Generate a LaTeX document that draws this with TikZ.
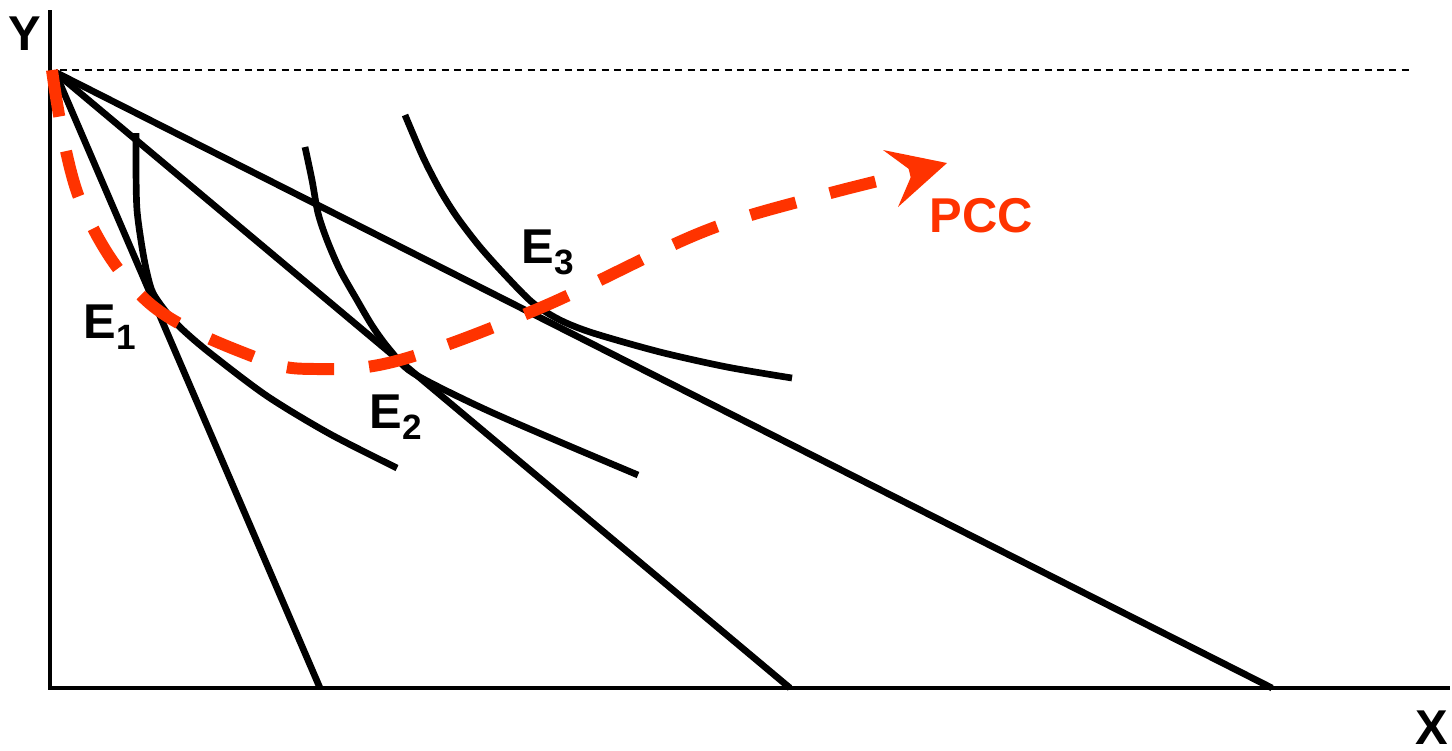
\documentclass[tikz,border=0pt]{standalone}
\usepackage{fontspec}
\setmainfont{Liberation Sans}
\definecolor{pccred}{RGB}{255,51,0}
\newcommand\subidx[1]{\raisebox{-3.4pt}{\bfseries\fontsize{10}{12}\selectfont #1}}
\begin{document}
\begin{tikzpicture}[x=0.01cm,y=-0.01cm,
  axisline/.style={line width=1.15pt,black},
  budget/.style={line width=1.9pt,black},
  icurve/.style={line width=1.9pt,black},
  guide/.style={line width=0.45pt,black,dash pattern=on 2pt off 1.5pt},
  pccline/.style={line width=3.4pt,pccred,dash pattern=on 13.4pt off 10pt},
  lbl/.style={inner sep=0pt,font=\bfseries\fontsize{13.9}{16}\selectfont}]
\useasboundingbox (0,0) rectangle (1452,750);
% axes
\coordinate (ytop) at (50,10);
\coordinate (O) at (50,688);
\coordinate (xend) at (1450,688);
\draw[axisline] (ytop) -- (O) -- (xend);
% guide line
\coordinate (g1) at (60,70);
\coordinate (g2) at (1410,70);
\draw[guide] (g1) -- (g2);
% budget lines
\coordinate (A) at (55,72);
\coordinate (B1) at (320,688);
\coordinate (B2) at (790,688);
\coordinate (B3) at (1272,688);
\draw[budget] (A) -- (B1);
\draw[budget] (A) -- (B2);
\draw[budget] (A) -- (B3);
% indifference curves
\draw[icurve] plot[smooth,tension=0.5] coordinates {(136,133) (136,170) (137,210) (142,247) (147,273) (153,293) (167,313) (183,330) (210,353) (267,396) (330,434) (397,468)};
\draw[icurve] plot[smooth,tension=0.5] coordinates {(305,147) (312,180) (318,213) (327,240) (340,270) (357,300) (373,327) (390,350) (413,373) (480,407) (560,442) (638,475)};
\draw[icurve] plot[smooth,tension=0.5] coordinates {(405,115) (423,157) (440,190) (457,217) (480,247) (507,277) (533,303) (560,320) (593,333) (660,352) (727,367) (792,378)};
% PCC
\coordinate (p0) at (52,70);
\coordinate (pend) at (915,172);
\draw[pccline] plot[smooth,tension=0.6] coordinates {(52,70) (80,200) (148,302) (257,358) (317,369) (400,360) (540,308) (700,233) (812,198) (915,172)};
\fill[pccred] (883,150) -- (947,163) -- (898,207) -- (913,172) -- cycle;
% labels
\node[lbl,anchor=base] (ylab) at (25,50) {Y};
\node[lbl,anchor=base] (xlab) at (1432,744) {X};
\node[lbl,anchor=base west,text=pccred] (pcc) at (929,232) {PCC};
\node[lbl,anchor=base west] (e1) at (83,338) {E\subidx{1}};
\node[lbl,anchor=base west] (e2) at (369,428) {E\subidx{2}};
\node[lbl,anchor=base west] (e3) at (521,263) {E\subidx{3}};
\end{tikzpicture}
\end{document}
